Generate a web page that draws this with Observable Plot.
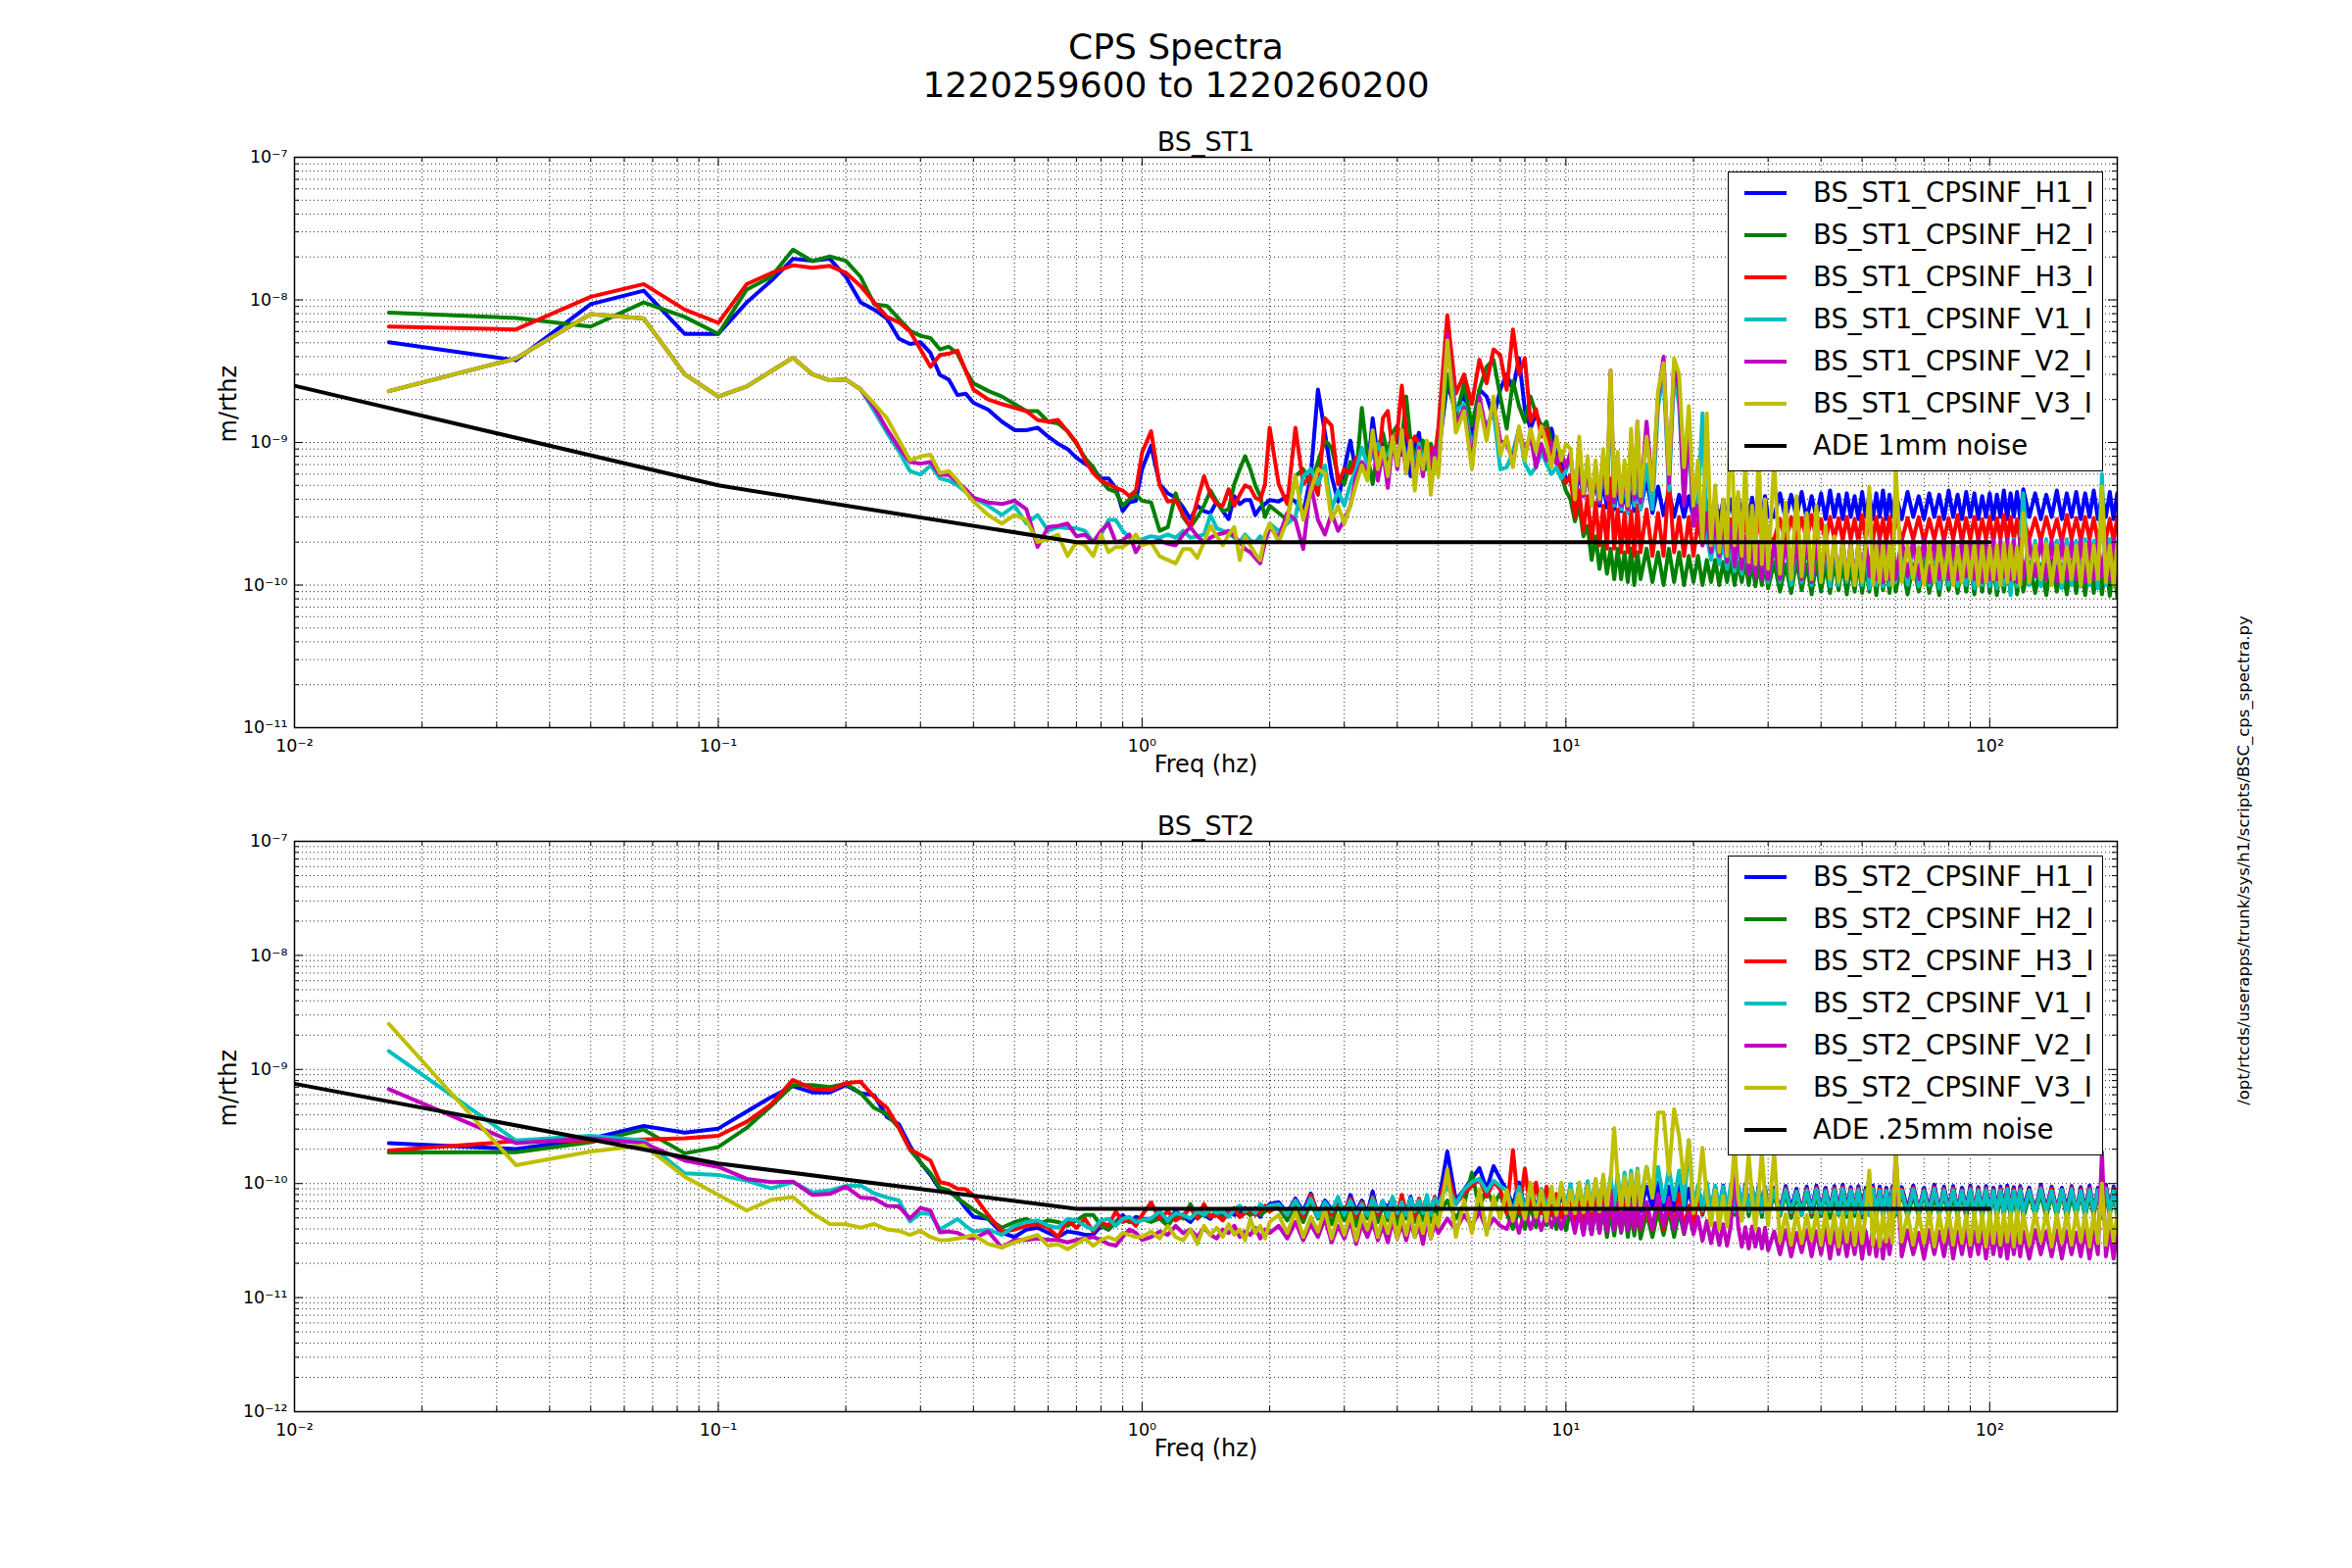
<!DOCTYPE html>
<html>
<head>
<meta charset="utf-8">
<script src="https://cdn.jsdelivr.net/npm/d3@7"></script>
<script src="https://cdn.jsdelivr.net/npm/@observablehq/plot@0.6"></script>
<style>
  html, body { margin: 0; padding: 0; background: #fff; }
  #fig { position: relative; width: 2400px; height: 1600px; overflow: hidden; background: #fff;
         font-family: "DejaVu Sans", sans-serif; color: #000; }
  .panel { position: absolute; left: 0; }
  .sup { position: absolute; left: 0; width: 2400px; text-align: center; font-size: 36px; line-height: 39px; }
  .legend { position: absolute; left: 1763px; width: 383px; height: 306px; border: 1.5px solid #000;
            background: #fff; box-sizing: border-box; }
  .row { position: absolute; left: 0; width: 100%; height: 0; }
  .sw { position: absolute; left: 16px; width: 43px; height: 4px; top: -2px; }
  .lt { position: absolute; left: 86px; top: 0; transform: translateY(-50%); font-size: 27.5px; line-height: 1; white-space: nowrap; }
  .side { position: absolute; left: 2290px; top: 878px; transform: translate(-50%, -50%) rotate(-90deg);
          font-size: 16.5px; line-height: 1; white-space: nowrap; }
</style>
</head>
<body>
<div id="fig"></div>
<script>
// ---------------- data ----------------
const figTitle = ["CPS Spectra", "1220259600 to 1220260200"];
const scriptPath = "/opt/rtcds/userapps/trunk/sys/h1/scripts/BSC_cps_spectra.py";
const xLabel = "Freq (hz)";
const yLabel = "m/rthz";
const channels = ["H1", "H2", "H3", "V1", "V2", "V3"];
const seriesColors = ["#0000ff", "#008000", "#ff0000", "#00bfbf", "#bf00bf", "#bfbf00"];

// frequency grid (Hz), shared by all channels
const freq = [
 0.0167,0.0333,0.05,0.0667,0.0833,0.1,0.1167,0.1333,0.15,0.1667,0.1833,0.2,0.2167,0.2333,0.25,0.2667,0.2833,0.3,0.3167,0.3333,0.35,0.3667,0.3833,0.4,
 0.4333,0.4667,0.5,0.5333,0.5667,0.6,0.6333,0.6667,0.7,0.7333,0.7667,0.8,0.8333,0.8667,0.9,0.9333,0.9667,1.0,
 1.05,1.1,1.15,1.2,1.25,1.3,1.35,1.4,1.45,1.5,1.55,1.6,1.65,1.7,1.75,1.8,1.85,1.9,1.95,2.0,
 2.1,2.2,2.3,2.4,2.5,2.6,2.7,2.8,2.9,3.0,3.1,3.2,3.3,3.4,3.5,3.6,3.7,3.8,3.9,4.0,4.1,4.2,4.3,4.4,4.5,4.6,4.7,4.8,4.9,5.0,
 5.25,5.5,5.75,6.0,6.25,6.5,6.75,7.0,7.25,7.5,7.75,8.0,8.25,8.5,8.75,9.0,9.25,9.5,9.75,10.0,
 10.25,10.5,10.75,11,11.25,11.5,11.75,12,12.25,12.5,
 12.75,13,13.25,13.5,13.75,14,14.25,14.5,14.75,15,
 15.5,16,16.5,17,17.5,18,18.5,19,19.5,20,
 20.5,21,21.5,22,22.5,23,23.5,24,24.5,25,
 25.5,26,26.5,27,27.5,28,28.5,29,29.5,30,
 31,32,33,34,35,36,37,38,39,40,
 41,42,43,44,45,46,47,48,49,50,
 51,52,53,54,55,56,57,58,59,60,
 62,64,66,68,70,72,74,76,78,80,
 82,84,86,88,90,92,94,96,98,100,
 102,104,106,108,110,112,114,116,118,120,
 124,128,132,136,140,144,148,152,156,160,
 164,168,172,176,180,184,188,192,196,200
];

// ---- BS_ST1 (m/rthz)
const st1_H1 = [
 5.05e-9,3.77e-9,9.33e-9,1.16e-8,5.77e-9,5.77e-9,9.6e-9,1.36e-8,1.94e-8,1.88e-8,1.94e-8,1.45e-8,9.6e-9,8.55e-9,7.4e-9,5.35e-9,4.9e-9,5.05e-9,4.24e-9,2.98e-9,2.75e-9,2.15e-9,2.2e-9,1.9e-9,
 1.7e-9,1.4e-9,1.22e-9,1.22e-9,1.27e-9,1.1e-9,9.8e-10,9.0e-10,7.8e-10,7.1e-10,6.5e-10,5.6e-10,5.6e-10,4.8e-10,3.3e-10,3.8e-10,3.9e-10,6.5e-10,
 9.5e-10,5.1e-10,4.4e-10,4.1e-10,3.5e-10,2.9e-10,3.6e-10,3.3e-10,3.2e-10,3.85e-10,3.3e-10,2.9e-10,4.2e-10,3.7e-10,3.95e-10,3.95e-10,3.1e-10,3.5e-10,3.7e-10,3.95e-10,
 3.85e-10,4.2e-10,3.85e-10,3.2e-10,5.8e-10,2.35e-9,1.17e-9,5.8e-10,3.85e-10,6.5e-10,1.03e-9,6.1e-10,6.9e-10,5.8e-10,1.48e-9,7.8e-10,9.8e-10,6.9e-10,9.2e-10,1.1e-9,8.2e-10,1.17e-9,5.8e-10,9.2e-10,1.17e-9,7.3e-10,9.2e-10,7.8e-10,6.9e-10,8.2e-10,
 2.6e-9,1.66e-9,2.2e-9,1.1e-9,2.35e-9,2.1e-9,1.48e-9,2.35e-9,3.0e-9,2.34e-9,3.9e-9,1.71e-9,1.25e-9,1.6e-9,1.3e-9,1.1e-9,1.25e-9,8.6e-10,7.1e-10,5.6e-10,
 5.4e-10,4.0e-10,6.2e-10,4.2e-10,6.7e-10,3.8e-10,5.6e-10,3.6e-10,5.2e-10,3.5e-10,
 5.0e-10,3.4e-10,4.9e-10,3.3e-10,4.6e-10,3.2e-10,4.8e-10,3.3e-10,5.9e-10,3.4e-10,
 5.6e-10,3.2e-10,4.9e-10,3.1e-10,4.6e-10,3.0e-10,4.3e-10,3.0e-10,4.2e-10,2.9e-10,
 4.0e-10,2.8e-10,3.9e-10,2.9e-10,4.1e-10,2.8e-10,3.9e-10,2.9e-10,4.0e-10,2.8e-10,
 4.2e-10,2.9e-10,4.3e-10,2.9e-10,4.1e-10,2.9e-10,4.3e-10,2.9e-10,4.2e-10,3.0e-10,
 3.0e-10,4.4e-10,2.9e-10,4.3e-10,3.0e-10,4.5e-10,2.9e-10,4.2e-10,3.0e-10,4.4e-10,
 2.9e-10,4.6e-10,3.0e-10,4.3e-10,2.9e-10,4.4e-10,3.0e-10,4.2e-10,2.9e-10,4.5e-10,
 3.0e-10,4.3e-10,2.9e-10,4.4e-10,3.0e-10,4.6e-10,2.9e-10,4.3e-10,3.0e-10,4.4e-10,
 2.9e-10,4.5e-10,3.0e-10,4.2e-10,2.9e-10,4.4e-10,3.0e-10,4.3e-10,2.9e-10,4.6e-10,
 3.0e-10,4.3e-10,2.9e-10,4.5e-10,3.0e-10,4.4e-10,2.9e-10,4.2e-10,3.0e-10,4.4e-10,
 2.9e-10,4.3e-10,3.0e-10,4.6e-10,2.9e-10,4.4e-10,3.0e-10,4.5e-10,2.9e-10,4.7e-10,
 3.0e-10,4.4e-10,2.9e-10,4.3e-10,3.0e-10,4.6e-10,2.9e-10,4.4e-10,3.0e-10,4.5e-10,
 2.9e-10,4.4e-10,3.0e-10,4.6e-10,2.9e-10,4.3e-10,3.0e-10,4.5e-10,2.9e-10,4.4e-10
];
const st1_H2 = [
 8.15e-9,7.46e-9,6.5e-9,9.6e-9,7.6e-9,5.77e-9,1.18e-8,1.45e-8,2.25e-8,1.87e-8,2.02e-8,1.88e-8,1.45e-8,9.33e-9,9.06e-9,7.4e-9,6.08e-9,5.6e-9,5.4e-9,4.49e-9,4.7e-9,4.2e-9,3.2e-9,2.6e-9,
 2.3e-9,2.1e-9,1.86e-9,1.66e-9,1.66e-9,1.4e-9,1.36e-9,1.2e-9,9.8e-10,7.8e-10,6.7e-10,5.4e-10,4.7e-10,4.5e-10,3.6e-10,4.0e-10,4.3e-10,3.9e-10,
 3.8e-10,2.4e-10,2.55e-10,4.4e-10,3.0e-10,2.55e-10,3.0e-10,3.6e-10,4.6e-10,3.85e-10,3.3e-10,3.4e-10,5.1e-10,6.5e-10,8.0e-10,6.5e-10,5.0e-10,4.2e-10,3.0e-10,3.6e-10,
 3.2e-10,2.86e-10,5.8e-10,6.5e-10,5.1e-10,7.3e-10,1.03e-9,9.2e-10,5.8e-10,5.1e-10,7.3e-10,5.8e-10,1.75e-9,8.2e-10,5.1e-10,9.2e-10,1.17e-9,8.2e-10,1.17e-9,1.31e-9,1.03e-9,2.1e-9,1.03e-9,8.2e-10,9.2e-10,1.03e-9,6.5e-10,9.8e-10,7.3e-10,8.2e-10,
 3.0e-9,1.48e-9,2.6e-9,1.31e-9,2.35e-9,3.4e-9,3.8e-9,2.1e-9,1.25e-9,2.7e-9,1.8e-9,1.4e-9,2.1e-9,1.6e-9,1.25e-9,1.4e-9,9.8e-10,7.5e-10,5.9e-10,4.6e-10,
 4.0e-10,2.8e-10,3.6e-10,2.2e-10,2.6e-10,1.5e-10,2.2e-10,1.3e-10,1.9e-10,1.2e-10,
 1.8e-10,1.1e-10,1.8e-10,1.1e-10,1.7e-10,1.05e-10,1.8e-10,1.0e-10,1.7e-10,1.1e-10,
 1.8e-10,1.05e-10,1.7e-10,1.0e-10,1.8e-10,1.05e-10,1.7e-10,1.0e-10,1.6e-10,1.05e-10,
 1.6e-10,1.0e-10,1.5e-10,1.05e-10,1.5e-10,1.0e-10,1.45e-10,1.05e-10,1.5e-10,1.0e-10,
 1.45e-10,1.05e-10,1.5e-10,1.0e-10,1.45e-10,9.8e-11,1.4e-10,1.0e-10,1.45e-10,9.5e-11,
 1.45e-10,9.0e-11,1.4e-10,8.8e-11,1.5e-10,9.2e-11,1.4e-10,8.6e-11,1.45e-10,9.0e-11,
 1.4e-10,8.8e-11,1.5e-10,9.2e-11,1.45e-10,8.6e-11,1.4e-10,9.0e-11,1.5e-10,8.8e-11,
 1.4e-10,9.0e-11,1.45e-10,8.5e-11,1.4e-10,9.2e-11,1.5e-10,8.8e-11,1.4e-10,9.0e-11,
 1.45e-10,8.6e-11,1.4e-10,9.0e-11,1.5e-10,8.8e-11,1.4e-10,8.5e-11,1.45e-10,9.2e-11,
 1.4e-10,8.8e-11,1.5e-10,9.0e-11,1.45e-10,8.6e-11,1.4e-10,9.0e-11,1.5e-10,8.8e-11,
 1.4e-10,8.5e-11,1.45e-10,9.0e-11,1.4e-10,8.8e-11,1.5e-10,8.6e-11,1.4e-10,9.0e-11,
 1.45e-10,8.8e-11,1.4e-10,8.5e-11,1.5e-10,9.0e-11,1.4e-10,8.6e-11,1.45e-10,8.8e-11,
 1.4e-10,8.5e-11,1.5e-10,8.8e-11,1.4e-10,8.6e-11,1.45e-10,8.4e-11,1.4e-10,8.2e-11
];
const st1_H3 = [
 6.5e-9,6.2e-9,1.05e-8,1.29e-8,8.55e-9,6.9e-9,1.29e-8,1.54e-8,1.75e-8,1.68e-8,1.73e-8,1.55e-8,1.25e-8,9.6e-9,7.6e-9,6.97e-9,6.0e-9,4.5e-9,3.39e-9,4.1e-9,4.2e-9,4.4e-9,3.2e-9,2.35e-9,
 2.0e-9,1.86e-9,1.75e-9,1.66e-9,1.44e-9,1.4e-9,1.44e-9,1.2e-9,1.0e-9,7.5e-10,6.1e-10,5.4e-10,5.1e-10,4.8e-10,4.6e-10,4.2e-10,4.6e-10,8.5e-10,
 1.2e-9,5.0e-10,3.85e-10,3.95e-10,3.1e-10,2.55e-10,3.95e-10,5.8e-10,4.3e-10,3.7e-10,3.6e-10,4.7e-10,3.6e-10,4.3e-10,5.0e-10,4.8e-10,4.1e-10,3.95e-10,5.1e-10,1.27e-9,
 5.1e-10,3.7e-10,1.27e-9,5.1e-10,5.8e-10,4.3e-10,1.48e-9,1.31e-9,5.1e-10,6.5e-10,6.1e-10,7.8e-10,6.5e-10,7.1e-10,9.8e-10,6.5e-10,1.48e-9,1.66e-9,8.7e-10,1.17e-9,2.5e-9,1.17e-9,9.2e-10,1.1e-9,9.8e-10,7.3e-10,8.2e-10,9.2e-10,7.8e-10,1.27e-9,
 7.8e-9,2.2e-9,3.0e-9,1.86e-9,3.8e-9,2.6e-9,4.5e-9,4.1e-9,2.34e-9,6.2e-9,3.0e-9,3.9e-9,1.4e-9,1.71e-9,1.1e-9,1.25e-9,7.5e-10,8.0e-10,6.3e-10,5.2e-10,
 5.9e-10,3.0e-10,4.6e-10,2.4e-10,4.2e-10,2.0e-10,3.8e-10,1.9e-10,3.6e-10,1.8e-10,
 5.6e-10,1.8e-10,3.4e-10,1.7e-10,3.2e-10,1.7e-10,3.3e-10,1.6e-10,3.6e-10,1.7e-10,
 3.4e-10,1.6e-10,3.2e-10,1.6e-10,5.6e-10,1.7e-10,3.0e-10,1.6e-10,3.0e-10,1.6e-10,
 2.8e-10,1.9e-10,3.0e-10,2.0e-10,2.8e-10,1.9e-10,3.0e-10,2.0e-10,2.9e-10,2.0e-10,
 3.0e-10,2.0e-10,2.9e-10,2.1e-10,3.0e-10,2.0e-10,2.9e-10,2.1e-10,3.0e-10,2.1e-10,
 2.1e-10,2.9e-10,2.0e-10,3.0e-10,2.1e-10,2.95e-10,2.05e-10,3.1e-10,2.1e-10,2.9e-10,
 2.0e-10,3.0e-10,2.1e-10,2.95e-10,2.05e-10,3.0e-10,2.1e-10,2.9e-10,2.0e-10,3.1e-10,
 2.1e-10,2.95e-10,2.05e-10,3.0e-10,2.1e-10,2.9e-10,2.0e-10,3.0e-10,2.1e-10,3.1e-10,
 2.05e-10,2.95e-10,2.1e-10,3.0e-10,2.0e-10,2.9e-10,2.1e-10,3.0e-10,2.05e-10,2.95e-10,
 2.1e-10,3.1e-10,2.0e-10,2.95e-10,2.1e-10,3.0e-10,2.05e-10,2.9e-10,2.1e-10,3.0e-10,
 2.0e-10,2.95e-10,2.1e-10,3.1e-10,2.05e-10,3.0e-10,2.1e-10,2.9e-10,2.0e-10,3.0e-10,
 2.1e-10,2.95e-10,2.05e-10,3.0e-10,2.1e-10,2.9e-10,2.0e-10,3.1e-10,2.1e-10,2.95e-10,
 2.05e-10,3.0e-10,2.1e-10,2.95e-10,2.0e-10,3.0e-10,2.1e-10,2.9e-10,2.05e-10,3.0e-10
];
const st1_V1 = [
 2.29e-9,3.88e-9,7.96e-9,7.4e-9,3.01e-9,2.1e-9,2.47e-9,3.16e-9,3.93e-9,3.01e-9,2.73e-9,2.76e-9,2.36e-9,1.66e-9,1.17e-9,8.7e-10,6.3e-10,5.95e-10,6.9e-10,5.6e-10,5.4e-10,5.0e-10,4.5e-10,4.1e-10,
 3.6e-10,3.1e-10,3.6e-10,2.7e-10,3.1e-10,2.4e-10,2.55e-10,2.5e-10,2.5e-10,2.4e-10,2.0e-10,2.26e-10,2.86e-10,2.86e-10,2.4e-10,2.15e-10,2.0e-10,2.1e-10,
 2.2e-10,2.15e-10,2.26e-10,2.15e-10,2.4e-10,2.15e-10,2.2e-10,2.26e-10,3.1e-10,2.5e-10,2.4e-10,2.3e-10,2.15e-10,2.0e-10,2.26e-10,2.05e-10,2.0e-10,2.2e-10,2.0e-10,2.7e-10,
 2.4e-10,2.7e-10,3.0e-10,5.8e-10,6.5e-10,5.1e-10,6.9e-10,3.4e-10,4.6e-10,3.6e-10,5.1e-10,6.5e-10,9.2e-10,6.9e-10,8.2e-10,9.8e-10,7.8e-10,8.2e-10,9.8e-10,8.2e-10,1.03e-9,7.8e-10,9.2e-10,6.5e-10,9.8e-10,7.3e-10,8.2e-10,5.8e-10,6.9e-10,7.3e-10,
 4.7e-9,1.66e-9,1.86e-9,9.2e-10,1.66e-9,1.31e-9,1.66e-9,6.5e-10,6.7e-10,8.6e-10,1.25e-9,7.1e-10,6.0e-10,6.7e-10,8.6e-10,7.1e-10,6.0e-10,6.7e-10,5.6e-10,6.3e-10,
 8.0e-10,4.6e-10,7.0e-10,4.2e-10,6.0e-10,4.0e-10,6.5e-10,3.8e-10,7.0e-10,4.0e-10,
 2.3e-9,3.6e-10,6.5e-10,3.4e-10,6.0e-10,3.2e-10,8.0e-10,3.6e-10,7.5e-10,3.4e-10,
 7.0e-10,3.4e-10,1.8e-9,3.0e-9,4.6e-10,3.0e-9,1.8e-9,4.0e-10,1.2e-9,2.6e-10,
 3.6e-10,1.6e-9,2.2e-10,1.5e-10,2.2e-10,1.4e-10,2.1e-10,1.3e-10,2.0e-10,1.25e-10,
 2.0e-10,1.2e-10,2.0e-10,1.2e-10,1.95e-10,1.15e-10,2.0e-10,1.1e-10,1.9e-10,1.05e-10,
 1.9e-10,1.05e-10,2.0e-10,1.0e-10,1.95e-10,1.05e-10,2.0e-10,1.0e-10,1.9e-10,1.05e-10,
 2.0e-10,9.8e-11,2.05e-10,1.0e-10,1.95e-10,1.05e-10,2.0e-10,1.0e-10,2.05e-10,1.0e-10,
 1.95e-10,9.5e-11,2.0e-10,1.0e-10,2.05e-10,9.8e-11,2.0e-10,1.0e-10,1.95e-10,1.05e-10,
 2.0e-10,1.0e-10,2.05e-10,9.8e-11,2.0e-10,1.0e-10,1.95e-10,9.5e-11,2.0e-10,1.0e-10,
 2.05e-10,9.8e-11,2.0e-10,1.0e-10,1.95e-10,9.5e-11,2.05e-10,1.0e-10,2.0e-10,9.8e-11,
 2.0e-10,9.5e-11,2.05e-10,1.0e-10,2.0e-10,8.5e-11,2.1e-10,9.8e-11,2.0e-10,4.4e-10,
 1.0e-10,2.05e-10,9.8e-11,2.1e-10,1.0e-10,2.05e-10,9.5e-11,2.1e-10,1.0e-10,2.05e-10,
 9.8e-11,2.1e-10,1.0e-10,2.05e-10,9.5e-11,6.0e-10,1.0e-10,2.1e-10,9.8e-11,2.0e-10
];
const st1_V2 = [
 2.29e-9,3.88e-9,7.96e-9,7.4e-9,3.01e-9,2.1e-9,2.47e-9,3.16e-9,3.93e-9,3.01e-9,2.73e-9,2.76e-9,2.36e-9,1.77e-9,1.24e-9,9.2e-10,7.3e-10,7.1e-10,7.3e-10,5.95e-10,5.9e-10,5.3e-10,4.7e-10,4.1e-10,
 3.8e-10,3.7e-10,3.9e-10,3.4e-10,1.85e-10,2.55e-10,2.6e-10,2.7e-10,2.2e-10,2.26e-10,2.0e-10,2.4e-10,2.7e-10,2.0e-10,2.05e-10,2.26e-10,1.7e-10,2.0e-10,
 2.0e-10,2.05e-10,1.95e-10,1.9e-10,2.26e-10,2.55e-10,2.2e-10,2.0e-10,2.15e-10,2.26e-10,2.3e-10,2.4e-10,2.2e-10,2.0e-10,1.79e-10,1.7e-10,1.55e-10,1.42e-10,2.0e-10,2.55e-10,
 2.15e-10,3.2e-10,2.86e-10,1.79e-10,5.1e-10,2.86e-10,2.26e-10,3.2e-10,2.4e-10,2.86e-10,3.6e-10,5.8e-10,7.3e-10,6.1e-10,1.03e-9,5.4e-10,8.7e-10,4.8e-10,1.03e-9,6.5e-10,1.1e-9,6.1e-10,9.8e-10,5.4e-10,9.2e-10,5.8e-10,9.8e-10,6.5e-10,9.2e-10,6.1e-10,
 5.7e-9,1.31e-9,1.75e-9,7.3e-10,2.1e-9,1.17e-9,1.86e-9,1.03e-9,9.8e-10,7.5e-10,1.25e-9,8.6e-10,1.1e-9,6.7e-10,9.8e-10,7.5e-10,1.0e-9,7.1e-10,8.6e-10,6.7e-10,
 8.5e-10,4.0e-10,7.5e-10,4.2e-10,6.5e-10,3.6e-10,6.7e-10,3.8e-10,8.0e-10,4.0e-10,
 3.2e-9,3.8e-10,7.5e-10,3.6e-10,6.5e-10,3.4e-10,1.1e-9,4.0e-10,1.4e-9,3.8e-10,
 1.4e-9,4.6e-10,2.1e-9,4.0e-9,5.2e-10,3.6e-9,2.3e-9,3.6e-10,1.4e-9,2.6e-10,
 3.6e-10,1.9e-10,3.2e-10,1.7e-10,3.0e-10,1.6e-10,2.8e-10,1.45e-10,2.6e-10,1.35e-10,
 2.4e-10,1.3e-10,2.2e-10,1.2e-10,2.1e-10,1.15e-10,2.0e-10,1.1e-10,2.0e-10,1.1e-10,
 1.95e-10,1.1e-10,2.0e-10,1.15e-10,1.9e-10,1.1e-10,2.0e-10,1.05e-10,1.95e-10,1.1e-10,
 2.0e-10,1.15e-10,1.95e-10,1.1e-10,2.05e-10,1.1e-10,2.0e-10,1.05e-10,1.95e-10,1.1e-10,
 2.05e-10,1.15e-10,2.0e-10,1.1e-10,2.1e-10,1.05e-10,2.0e-10,1.1e-10,2.05e-10,1.1e-10,
 2.1e-10,1.15e-10,2.05e-10,1.1e-10,2.1e-10,1.05e-10,2.05e-10,1.1e-10,2.1e-10,1.1e-10,
 2.05e-10,1.1e-10,2.1e-10,1.15e-10,2.05e-10,1.1e-10,2.1e-10,1.05e-10,2.05e-10,1.1e-10,
 2.1e-10,1.1e-10,2.05e-10,1.15e-10,2.1e-10,1.1e-10,2.05e-10,1.05e-10,2.1e-10,1.1e-10,
 2.05e-10,1.15e-10,2.1e-10,1.1e-10,2.05e-10,1.05e-10,2.1e-10,1.1e-10,2.05e-10,1.1e-10,
 2.1e-10,1.05e-10,2.05e-10,1.1e-10,2.1e-10,1.15e-10,2.05e-10,1.1e-10,2.1e-10,1.1e-10
];
const st1_V3 = [
 2.29e-9,3.88e-9,7.96e-9,7.4e-9,3.01e-9,2.1e-9,2.47e-9,3.16e-9,3.93e-9,3.01e-9,2.73e-9,2.76e-9,2.36e-9,1.87e-9,1.48e-9,1.04e-9,7.5e-10,7.97e-10,8.2e-10,6.1e-10,6.3e-10,5.4e-10,4.5e-10,3.85e-10,
 3.1e-10,2.7e-10,3.1e-10,2.86e-10,2.0e-10,2.1e-10,2.26e-10,1.6e-10,2.0e-10,1.9e-10,1.6e-10,2.26e-10,1.7e-10,1.85e-10,1.85e-10,2.0e-10,2.26e-10,1.9e-10,
 2.0e-10,1.59e-10,1.5e-10,1.42e-10,1.79e-10,1.79e-10,1.55e-10,2.0e-10,2.6e-10,2.2e-10,1.9e-10,2.26e-10,2.55e-10,1.5e-10,2.2e-10,1.9e-10,1.65e-10,1.5e-10,2.26e-10,2.7e-10,
 2.0e-10,2.86e-10,5.8e-10,2.86e-10,4.6e-10,6.5e-10,6.1e-10,2.86e-10,3.6e-10,2.7e-10,3.6e-10,5.1e-10,6.9e-10,5.4e-10,1.22e-9,6.5e-10,9.2e-10,5.8e-10,1.1e-9,6.9e-10,1.22e-9,6.1e-10,1.03e-9,4.6e-10,8.7e-10,6.5e-10,1.03e-9,4.3e-10,7.8e-10,5.8e-10,
 5.2e-9,1.17e-9,1.66e-9,6.5e-10,1.86e-9,1.03e-9,2.1e-9,8.2e-10,1.1e-9,6.7e-10,1.3e-9,7.5e-10,1.25e-9,8.6e-10,1.3e-9,9.8e-10,6.7e-10,1.1e-9,7.5e-10,9.8e-10,
 9.0e-10,4.0e-10,1.1e-9,4.4e-10,8.0e-10,3.6e-10,7.5e-10,4.0e-10,9.0e-10,4.4e-10,
 3.2e-9,4.2e-10,8.6e-10,3.8e-10,7.5e-10,3.6e-10,1.25e-9,4.4e-10,1.4e-9,4.2e-10,
 1.1e-9,4.6e-10,2.3e-9,3.6e-9,6.0e-10,3.9e-9,3.0e-9,6.7e-10,1.8e-9,3.6e-10,
 7.5e-10,2.0e-10,1.6e-9,1.9e-10,5.0e-10,1.7e-10,4.0e-10,1.6e-10,2.5e-9,1.9e-10,
 4.5e-10,1.6e-10,7.5e-10,1.45e-10,3.6e-10,1.4e-10,1.0e-9,1.4e-10,4.0e-10,1.3e-10,
 7.5e-10,1.2e-10,3.8e-10,1.1e-10,4.2e-10,1.15e-10,3.2e-10,1.1e-10,3.6e-10,1.05e-10,
 2.6e-10,1.1e-10,2.2e-10,1.05e-10,2.0e-10,1.1e-10,1.9e-10,1.0e-10,1.95e-10,1.05e-10,
 1.9e-10,4.9e-10,1.0e-10,1.9e-10,1.05e-10,1.95e-10,1.1e-10,1.9e-10,1.0e-10,6.7e-10,
 1.05e-10,1.9e-10,1.1e-10,1.85e-10,1.0e-10,1.9e-10,1.05e-10,1.95e-10,1.1e-10,1.9e-10,
 1.0e-10,1.85e-10,1.05e-10,1.9e-10,1.1e-10,1.95e-10,1.0e-10,1.9e-10,1.05e-10,1.85e-10,
 1.1e-10,1.9e-10,1.0e-10,1.95e-10,1.05e-10,1.9e-10,1.1e-10,1.85e-10,1.0e-10,3.2e-10,
 1.05e-10,1.9e-10,1.1e-10,1.95e-10,1.0e-10,1.9e-10,1.05e-10,1.85e-10,1.1e-10,1.9e-10,
 1.0e-10,1.95e-10,1.05e-10,1.9e-10,1.1e-10,4.9e-10,1.05e-10,1.9e-10,1.0e-10,1.95e-10
];

// ---- BS_ST2 (m/rthz)
const st2_H1 = [
 2.26e-10,2.01e-10,2.47e-10,3.19e-10,2.8e-10,3.03e-10,4.28e-10,5.73e-10,7.14e-10,6.3e-10,6.3e-10,7.3e-10,6.2e-10,5.94e-10,3.83e-10,3.31e-10,2.14e-10,1.53e-10,1.19e-10,8.9e-11,8.4e-11,7.65e-11,6.1e-11,5.1e-11,
 4.9e-11,3.7e-11,3.4e-11,3.95e-11,4.1e-11,3.7e-11,3.4e-11,3.8e-11,3.7e-11,3.55e-11,3.55e-11,4.26e-11,3.95e-11,4.6e-11,5.3e-11,4.6e-11,5.1e-11,4.9e-11,
 4.9e-11,5.3e-11,4.75e-11,5.7e-11,5.1e-11,4.6e-11,5.5e-11,5.3e-11,4.9e-11,5.7e-11,5.1e-11,5.95e-11,5.3e-11,5.5e-11,6.1e-11,5.3e-11,5.7e-11,5.1e-11,5.95e-11,6.6e-11,
 6.85e-11,5.5e-11,7.4e-11,5.7e-11,8.2e-11,5.3e-11,7.1e-11,5.95e-11,6.6e-11,5.3e-11,7.95e-11,5.7e-11,7.1e-11,5.5e-11,8.55e-11,5.3e-11,6.85e-11,6.15e-11,7.4e-11,5.5e-11,7.1e-11,5.3e-11,7.65e-11,5.7e-11,6.85e-11,5.95e-11,7.4e-11,5.3e-11,7.1e-11,6.6e-11,
 1.91e-10,7.1e-11,8.9e-11,1.1e-10,1.37e-10,8.9e-11,1.42e-10,1.1e-10,8.75e-11,6.4e-11,1.02e-10,5.9e-11,9.4e-11,6.1e-11,8.75e-11,5.9e-11,8.4e-11,5.7e-11,8.1e-11,5.9e-11,
 9.0e-11,5.9e-11,9.4e-11,5.7e-11,9.9e-11,5.9e-11,9.4e-11,5.8e-11,9.6e-11,5.7e-11,
 9.9e-11,5.9e-11,1.02e-10,5.7e-11,9.4e-11,5.9e-11,9.6e-11,5.8e-11,9.9e-11,5.7e-11,
 9.4e-11,6.1e-11,1.02e-10,5.9e-11,9.4e-11,5.7e-11,9.9e-11,5.9e-11,9.0e-11,5.7e-11,
 9.4e-11,5.9e-11,9.0e-11,5.7e-11,9.4e-11,5.9e-11,9.6e-11,5.8e-11,9.0e-11,5.7e-11,
 9.4e-11,5.9e-11,9.9e-11,5.7e-11,9.2e-11,5.8e-11,9.5e-11,5.9e-11,9.3e-11,5.7e-11,
 9.2e-11,5.8e-11,9.5e-11,6.0e-11,9.0e-11,5.7e-11,9.4e-11,5.9e-11,9.6e-11,5.8e-11,
 9.2e-11,6.0e-11,9.5e-11,5.7e-11,9.8e-11,5.9e-11,9.3e-11,5.8e-11,9.5e-11,6.0e-11,
 9.2e-11,5.7e-11,9.6e-11,5.9e-11,9.4e-11,5.8e-11,9.2e-11,6.0e-11,9.5e-11,5.7e-11,
 9.3e-11,5.9e-11,9.6e-11,5.8e-11,9.2e-11,6.0e-11,9.8e-11,5.7e-11,9.4e-11,5.9e-11,
 9.5e-11,5.8e-11,9.2e-11,6.0e-11,9.6e-11,5.7e-11,9.3e-11,5.9e-11,9.5e-11,5.8e-11,
 9.2e-11,6.0e-11,9.4e-11,5.7e-11,9.6e-11,5.9e-11,9.3e-11,5.8e-11,9.5e-11,6.0e-11,
 9.2e-11,5.7e-11,9.8e-11,5.9e-11,9.4e-11,5.8e-11,9.2e-11,6.0e-11,9.5e-11,5.7e-11,
 9.3e-11,5.9e-11,9.6e-11,5.8e-11,9.2e-11,6.0e-11,9.8e-11,5.7e-11,9.4e-11,5.9e-11
];
const st2_H2 = [
 1.87e-10,1.88e-10,2.3e-10,2.97e-10,1.84e-10,2.09e-10,3.08e-10,4.78e-10,7.3e-10,7.3e-10,7.0e-10,7.5e-10,6.2e-10,4.6e-10,4.06e-10,3.08e-10,1.98e-10,1.53e-10,1.23e-10,9.2e-11,8.7e-11,7.4e-11,6.6e-11,5.9e-11,
 4.9e-11,4.1e-11,4.6e-11,4.9e-11,4.4e-11,4.75e-11,4.6e-11,4.26e-11,4.75e-11,5.3e-11,5.3e-11,4.26e-11,3.95e-11,4.6e-11,4.9e-11,4.6e-11,4.75e-11,4.9e-11,
 4.6e-11,4.93e-11,4.26e-11,5.3e-11,4.93e-11,6.6e-11,4.93e-11,5.5e-11,5.1e-11,5.7e-11,4.93e-11,5.3e-11,5.95e-11,5.1e-11,5.7e-11,5.3e-11,6.1e-11,5.3e-11,5.7e-11,5.95e-11,
 6.15e-11,4.75e-11,6.6e-11,4.6e-11,6.85e-11,4.93e-11,6.15e-11,4.4e-11,6.6e-11,4.75e-11,6.4e-11,4.26e-11,6.85e-11,4.93e-11,6.15e-11,4.6e-11,6.6e-11,4.75e-11,6.4e-11,4.4e-11,6.85e-11,4.93e-11,6.15e-11,4.6e-11,6.6e-11,4.75e-11,7.1e-11,4.6e-11,6.4e-11,5.3e-11,
 7.1e-11,4.93e-11,6.6e-11,1.24e-10,6.15e-11,8.9e-11,6.6e-11,8.2e-11,5.5e-11,4.0e-11,5.9e-11,4.0e-11,6.4e-11,4.15e-11,6.9e-11,4.3e-11,6.1e-11,4.0e-11,5.9e-11,3.9e-11,
 5.9e-11,4.0e-11,6.1e-11,3.7e-11,5.9e-11,3.6e-11,6.0e-11,3.7e-11,5.9e-11,3.4e-11,
 5.7e-11,3.5e-11,5.8e-11,3.7e-11,5.9e-11,3.4e-11,5.7e-11,3.5e-11,5.9e-11,3.3e-11,
 5.5e-11,3.4e-11,5.8e-11,3.55e-11,5.9e-11,3.4e-11,5.7e-11,3.6e-11,5.9e-11,4.3e-11,
 7.8e-11,5.3e-11,8.1e-11,5.5e-11,8.0e-11,5.3e-11,8.2e-11,5.2e-11,8.4e-11,5.3e-11,
 8.1e-11,5.5e-11,8.3e-11,5.2e-11,8.0e-11,5.4e-11,8.2e-11,5.1e-11,8.4e-11,5.3e-11,
 8.0e-11,5.2e-11,8.3e-11,5.0e-11,7.8e-11,5.3e-11,8.2e-11,5.1e-11,8.0e-11,5.2e-11,
 8.4e-11,5.0e-11,7.9e-11,5.3e-11,8.2e-11,5.1e-11,8.0e-11,5.2e-11,8.3e-11,5.0e-11,
 7.8e-11,5.3e-11,8.2e-11,5.1e-11,8.0e-11,5.2e-11,8.4e-11,5.0e-11,7.9e-11,5.3e-11,
 8.2e-11,5.1e-11,8.0e-11,5.2e-11,8.3e-11,5.0e-11,7.8e-11,5.3e-11,8.2e-11,5.1e-11,
 8.0e-11,5.2e-11,8.4e-11,5.0e-11,7.9e-11,5.3e-11,8.2e-11,5.1e-11,8.0e-11,5.2e-11,
 8.3e-11,5.0e-11,7.8e-11,5.3e-11,8.2e-11,5.1e-11,8.0e-11,5.2e-11,8.4e-11,5.0e-11,
 7.9e-11,5.3e-11,8.2e-11,5.1e-11,8.0e-11,5.2e-11,8.3e-11,5.0e-11,7.8e-11,5.3e-11,
 8.2e-11,5.1e-11,8.0e-11,5.2e-11,8.4e-11,5.0e-11,7.9e-11,5.3e-11,8.2e-11,5.1e-11
];
const st2_H3 = [
 1.95e-10,2.35e-10,2.38e-10,2.43e-10,2.5e-10,2.62e-10,3.48e-10,4.95e-10,8.1e-10,6.78e-10,6.6e-10,7.6e-10,7.8e-10,5.73e-10,4.6e-10,3.08e-10,2.0e-10,1.78e-10,1.59e-10,1.03e-10,9.9e-11,9.0e-11,8.9e-11,7.9e-11,
 5.3e-11,3.8e-11,3.95e-11,4.26e-11,4.4e-11,4.1e-11,3.4e-11,4.75e-11,4.1e-11,4.9e-11,3.8e-11,4.6e-11,4.26e-11,5.7e-11,4.6e-11,4.9e-11,4.26e-11,5.3e-11,
 6.8e-11,4.93e-11,5.7e-11,4.75e-11,5.3e-11,6.1e-11,4.93e-11,6.6e-11,5.1e-11,5.3e-11,4.75e-11,5.7e-11,6.1e-11,5.1e-11,5.5e-11,5.95e-11,5.3e-11,5.7e-11,6.4e-11,5.7e-11,
 6.4e-11,5.3e-11,7.1e-11,5.1e-11,7.95e-11,5.5e-11,6.6e-11,5.3e-11,7.1e-11,5.7e-11,7.4e-11,5.1e-11,6.85e-11,5.5e-11,7.65e-11,5.3e-11,6.6e-11,5.7e-11,7.1e-11,5.3e-11,7.95e-11,5.5e-11,6.85e-11,5.1e-11,7.4e-11,5.7e-11,6.6e-11,5.3e-11,7.65e-11,6.15e-11,
 1.28e-10,6.6e-11,8.2e-11,9.5e-11,1.1e-10,7.65e-11,1.03e-10,8.9e-11,5.5e-11,1.97e-10,5.5e-11,1.35e-10,5.9e-11,1.02e-10,5.5e-11,9.4e-11,5.3e-11,8.1e-11,5.1e-11,7.5e-11,
 7.2e-11,4.7e-11,6.9e-11,4.5e-11,7.2e-11,4.4e-11,6.8e-11,4.3e-11,7.0e-11,4.2e-11,
 6.6e-11,4.3e-11,6.9e-11,4.0e-11,6.8e-11,4.1e-11,6.4e-11,4.0e-11,6.7e-11,4.0e-11,
 6.1e-11,3.9e-11,7.5e-11,4.0e-11,6.6e-11,4.15e-11,8.1e-11,4.0e-11,6.4e-11,4.3e-11,
 8.1e-11,5.5e-11,8.4e-11,5.6e-11,8.6e-11,5.5e-11,8.4e-11,5.7e-11,8.75e-11,5.6e-11,
 8.4e-11,5.5e-11,8.8e-11,5.7e-11,8.6e-11,5.5e-11,8.75e-11,5.6e-11,8.9e-11,5.7e-11,
 8.8e-11,5.6e-11,9.1e-11,5.5e-11,8.6e-11,5.7e-11,9.0e-11,5.5e-11,9.2e-11,5.6e-11,
 8.8e-11,5.8e-11,9.1e-11,5.5e-11,9.3e-11,5.6e-11,8.9e-11,5.7e-11,9.1e-11,5.5e-11,
 8.8e-11,5.6e-11,9.2e-11,5.7e-11,9.0e-11,5.5e-11,8.8e-11,5.8e-11,9.1e-11,5.6e-11,
 8.9e-11,5.5e-11,9.2e-11,5.6e-11,8.8e-11,5.7e-11,9.3e-11,5.5e-11,9.0e-11,5.6e-11,
 9.1e-11,5.6e-11,8.8e-11,5.5e-11,9.2e-11,5.7e-11,8.9e-11,5.6e-11,9.1e-11,5.5e-11,
 8.8e-11,5.7e-11,9.0e-11,5.5e-11,9.2e-11,5.6e-11,8.9e-11,5.8e-11,9.1e-11,5.6e-11,
 8.8e-11,5.5e-11,9.3e-11,5.6e-11,9.0e-11,5.7e-11,8.8e-11,5.5e-11,9.2e-11,5.6e-11,
 8.9e-11,5.7e-11,9.1e-11,5.5e-11,8.8e-11,5.6e-11,9.3e-11,5.5e-11,9.0e-11,5.6e-11
];
const st2_V1 = [
 1.45e-9,2.38e-10,2.62e-10,2.38e-10,1.23e-10,1.19e-10,1.06e-10,9.06e-11,1.03e-10,8.35e-11,8.7e-11,9.5e-11,9.6e-11,8.2e-11,7.55e-11,7.1e-11,4.66e-11,5.5e-11,5.4e-11,3.96e-11,4.4e-11,4.9e-11,4.26e-11,3.8e-11,
 3.95e-11,3.55e-11,4.26e-11,4.6e-11,4.75e-11,4.26e-11,4.1e-11,4.9e-11,4.75e-11,4.26e-11,3.95e-11,4.75e-11,4.9e-11,4.26e-11,4.9e-11,5.1e-11,4.6e-11,4.75e-11,
 4.93e-11,5.7e-11,4.75e-11,5.5e-11,5.3e-11,4.93e-11,5.7e-11,5.3e-11,5.95e-11,5.5e-11,5.7e-11,5.1e-11,5.95e-11,6.4e-11,5.7e-11,6.1e-11,5.5e-11,6.6e-11,5.95e-11,6.4e-11,
 6.6e-11,5.3e-11,7.1e-11,5.5e-11,7.4e-11,5.1e-11,6.85e-11,5.7e-11,7.65e-11,5.3e-11,7.1e-11,5.5e-11,6.6e-11,5.3e-11,7.4e-11,5.7e-11,7.1e-11,5.1e-11,7.65e-11,5.5e-11,6.85e-11,5.3e-11,7.4e-11,5.7e-11,7.1e-11,5.5e-11,7.95e-11,5.3e-11,7.4e-11,6.6e-11,
 9.5e-11,6.6e-11,8.9e-11,1.03e-10,1.1e-10,8.55e-11,1.06e-10,9.5e-11,8.75e-11,5.5e-11,9.4e-11,5.9e-11,8.75e-11,5.7e-11,9.0e-11,5.9e-11,8.4e-11,5.5e-11,9.8e-11,6.1e-11,
 9.9e-11,6.0e-11,1.02e-10,5.9e-11,1.05e-10,6.1e-11,1.08e-10,6.2e-11,1.1e-10,6.4e-11,
 1.15e-10,6.4e-11,1.2e-10,6.6e-11,1.25e-10,6.6e-11,1.3e-10,6.9e-11,1.35e-10,6.9e-11,
 1.4e-10,7.5e-11,1.4e-10,6.9e-11,1.35e-10,7.2e-11,1.3e-10,6.4e-11,2.4e-10,5.9e-11,
 9.8e-11,5.8e-11,1.02e-10,5.7e-11,9.6e-11,5.9e-11,9.4e-11,5.8e-11,9.9e-11,5.7e-11,
 9.5e-11,5.9e-11,9.4e-11,5.7e-11,9.2e-11,5.8e-11,9.0e-11,5.6e-11,8.9e-11,5.7e-11,
 8.6e-11,5.5e-11,8.8e-11,5.6e-11,8.5e-11,5.4e-11,8.7e-11,5.6e-11,8.9e-11,5.5e-11,
 8.6e-11,5.7e-11,8.8e-11,5.4e-11,9.0e-11,5.5e-11,8.7e-11,5.6e-11,8.8e-11,5.5e-11,
 8.6e-11,5.4e-11,8.9e-11,5.6e-11,8.7e-11,5.5e-11,8.6e-11,5.7e-11,8.8e-11,5.5e-11,
 8.7e-11,5.4e-11,8.9e-11,5.6e-11,8.6e-11,5.5e-11,9.0e-11,5.4e-11,8.7e-11,5.6e-11,
 8.8e-11,5.5e-11,8.6e-11,5.7e-11,8.9e-11,5.4e-11,8.7e-11,5.6e-11,8.8e-11,5.5e-11,
 8.6e-11,5.6e-11,8.7e-11,5.4e-11,8.9e-11,5.5e-11,8.6e-11,5.7e-11,8.8e-11,5.5e-11,
 8.7e-11,5.4e-11,9.0e-11,5.6e-11,8.6e-11,5.5e-11,8.8e-11,5.4e-11,8.9e-11,5.6e-11,
 8.6e-11,5.5e-11,8.8e-11,5.7e-11,8.7e-11,5.4e-11,9.0e-11,5.6e-11,8.7e-11,5.5e-11
];
const st2_V2 = [
 6.73e-10,2.26e-10,2.5e-10,2.26e-10,1.59e-10,1.4e-10,1.1e-10,1.03e-10,1.04e-10,7.94e-11,8.1e-11,9.4e-11,7.55e-11,7.4e-11,6.37e-11,6.3e-11,4.93e-11,6.1e-11,5.8e-11,3.73e-11,3.8e-11,3.7e-11,3.4e-11,3.3e-11,
 3.8e-11,2.75e-11,3.2e-11,3.2e-11,3.3e-11,3.2e-11,3.2e-11,3.05e-11,3.2e-11,3.3e-11,3.4e-11,3.2e-11,2.95e-11,2.85e-11,3.4e-11,3.95e-11,3.7e-11,3.2e-11,
 3.4e-11,3.8e-11,3.55e-11,4.26e-11,3.68e-11,3.95e-11,3.4e-11,4.1e-11,3.55e-11,3.3e-11,3.95e-11,3.68e-11,4.26e-11,3.4e-11,3.8e-11,3.55e-11,4.1e-11,3.3e-11,3.95e-11,3.68e-11,
 4.26e-11,3.3e-11,4.6e-11,3.18e-11,4.4e-11,3.4e-11,4.93e-11,3.05e-11,4.26e-11,3.3e-11,4.75e-11,2.95e-11,4.4e-11,3.4e-11,4.6e-11,3.18e-11,4.26e-11,3.05e-11,4.75e-11,3.3e-11,4.4e-11,3.18e-11,4.6e-11,3.4e-11,4.26e-11,2.95e-11,4.75e-11,3.3e-11,4.4e-11,3.68e-11,
 4.93e-11,3.95e-11,5.3e-11,4.26e-11,5.7e-11,3.95e-11,4.93e-11,4.26e-11,4.0e-11,5.5e-11,3.7e-11,5.9e-11,4.0e-11,5.5e-11,3.9e-11,5.7e-11,4.15e-11,5.5e-11,4.0e-11,5.5e-11,
 5.5e-11,3.7e-11,5.7e-11,3.55e-11,5.9e-11,3.6e-11,6.2e-11,3.7e-11,6.5e-11,3.8e-11,
 8.75e-11,3.9e-11,6.5e-11,3.8e-11,6.0e-11,3.9e-11,6.8e-11,4.0e-11,7.5e-11,4.1e-11,
 6.9e-11,4.0e-11,8.1e-11,4.3e-11,7.5e-11,4.0e-11,6.4e-11,3.7e-11,5.5e-11,3.6e-11,
 5.1e-11,3.15e-11,4.7e-11,3.0e-11,4.5e-11,2.9e-11,4.4e-11,2.85e-11,4.3e-11,1.9e-10,
 4.2e-11,2.8e-11,4.15e-11,2.7e-11,4.2e-11,2.8e-11,4.0e-11,2.7e-11,4.1e-11,2.6e-11,
 3.8e-11,2.4e-11,3.9e-11,2.3e-11,3.7e-11,2.5e-11,3.9e-11,2.3e-11,3.8e-11,2.4e-11,
 4.0e-11,2.2e-11,3.8e-11,2.4e-11,3.9e-11,2.3e-11,3.7e-11,2.4e-11,3.9e-11,2.2e-11,
 3.8e-11,2.4e-11,4.0e-11,2.3e-11,3.8e-11,2.2e-11,3.9e-11,2.4e-11,3.7e-11,1.9e-10,
 2.3e-11,3.9e-11,2.4e-11,3.7e-11,2.2e-11,3.9e-11,2.4e-11,3.8e-11,2.3e-11,4.0e-11,
 2.2e-11,3.8e-11,2.4e-11,3.9e-11,2.3e-11,3.8e-11,2.4e-11,3.9e-11,2.2e-11,3.8e-11,
 2.4e-11,3.7e-11,2.3e-11,3.9e-11,2.2e-11,3.8e-11,2.4e-11,3.9e-11,2.3e-11,3.8e-11,
 2.2e-11,3.9e-11,2.4e-11,3.8e-11,2.3e-11,3.9e-11,2.2e-11,3.8e-11,2.4e-11,3.7e-11,
 2.3e-11,3.9e-11,2.2e-11,3.8e-11,2.4e-11,1.9e-10,2.3e-11,3.9e-11,2.2e-11,3.8e-11
];
const st2_V3 = [
 2.51e-9,1.45e-10,1.91e-10,2.16e-10,1.15e-10,7.94e-11,5.8e-11,7.2e-11,7.6e-11,5.5e-11,4.42e-11,4.4e-11,4.11e-11,4.42e-11,3.96e-11,3.85e-11,3.55e-11,3.85e-11,3.4e-11,3.18e-11,3.2e-11,3.3e-11,3.4e-11,3.55e-11,
 2.95e-11,2.75e-11,3.05e-11,3.3e-11,3.55e-11,2.85e-11,2.95e-11,2.65e-11,2.95e-11,3.3e-11,2.85e-11,3.2e-11,3.4e-11,3.2e-11,3.7e-11,3.55e-11,3.4e-11,3.4e-11,
 3.8e-11,3.3e-11,4.26e-11,3.4e-11,3.18e-11,3.95e-11,2.95e-11,4.26e-11,3.55e-11,4.1e-11,3.4e-11,4.4e-11,3.55e-11,3.95e-11,3.18e-11,4.93e-11,3.68e-11,4.26e-11,3.3e-11,4.6e-11,
 5.3e-11,3.68e-11,5.7e-11,3.4e-11,5.1e-11,3.8e-11,5.95e-11,3.3e-11,5.3e-11,3.55e-11,5.5e-11,3.18e-11,5.3e-11,3.95e-11,5.7e-11,3.4e-11,5.1e-11,3.68e-11,5.5e-11,3.3e-11,5.3e-11,3.55e-11,5.7e-11,3.4e-11,5.1e-11,3.68e-11,5.5e-11,3.3e-11,5.3e-11,4.26e-11,
 1.33e-10,3.4e-11,7.1e-11,3.68e-11,8.9e-11,3.55e-11,7.65e-11,4.93e-11,8.75e-11,4.7e-11,8.1e-11,4.9e-11,1.02e-10,5.1e-11,8.75e-11,4.7e-11,9.4e-11,5.3e-11,1.02e-10,5.5e-11,
 8.75e-11,5.5e-11,1.02e-10,5.6e-11,9.5e-11,5.9e-11,1.1e-10,5.7e-11,1.2e-10,6.0e-11,
 1.1e-10,3.06e-10,1.1e-10,5.9e-11,1.15e-10,6.0e-11,1.2e-10,6.4e-11,1.3e-10,6.2e-11,
 1.4e-10,7.5e-11,4.2e-10,4.2e-10,1.2e-10,4.5e-10,2.6e-10,1.02e-10,2.4e-10,5.5e-11,
 8.0e-11,2.06e-10,7.5e-11,4.3e-11,8.75e-11,4.0e-11,7.8e-11,4.2e-11,8.0e-11,2.06e-10,
 7.5e-11,4.7e-11,8.0e-11,1.8e-10,7.6e-11,4.0e-11,8.2e-11,1.9e-10,7.8e-11,4.3e-11,
 1.9e-10,3.1e-11,5.4e-11,2.9e-11,5.6e-11,3.0e-11,5.3e-11,3.2e-11,5.5e-11,2.9e-11,
 5.6e-11,3.0e-11,5.4e-11,2.8e-11,5.5e-11,3.1e-11,5.7e-11,2.9e-11,5.4e-11,3.0e-11,
 5.5e-11,1.3e-10,2.9e-11,5.6e-11,2.8e-11,5.4e-11,3.1e-11,5.5e-11,3.0e-11,1.9e-10,
 3.1e-11,5.4e-11,2.9e-11,5.5e-11,3.0e-11,5.7e-11,2.8e-11,5.4e-11,3.1e-11,5.6e-11,
 2.9e-11,5.5e-11,3.0e-11,5.3e-11,2.9e-11,5.6e-11,3.1e-11,5.4e-11,2.8e-11,5.5e-11,
 3.0e-11,5.6e-11,2.9e-11,5.4e-11,3.1e-11,5.5e-11,2.8e-11,5.7e-11,3.0e-11,5.4e-11,
 2.9e-11,5.5e-11,3.1e-11,5.6e-11,2.8e-11,5.4e-11,3.0e-11,5.5e-11,2.9e-11,5.6e-11,
 3.1e-11,5.4e-11,2.8e-11,5.5e-11,3.0e-11,1.0e-10,2.9e-11,5.6e-11,3.1e-11,5.4e-11
];

// ADE requirement curves
const adeFreq = [0.01, 0.1, 0.7, 100];
const ade1mm = [2.5e-9, 5e-10, 2e-10, 2e-10];
const ade025mm = [7.5e-10, 1.5e-10, 6e-11, 6e-11];

// axis ticks
const xMajor = [0.01, 0.1, 1, 10, 100];
const yMajor1 = [1e-11, 1e-10, 1e-9, 1e-8, 1e-7];
const yMajor2 = [1e-12, 1e-11, 1e-10, 1e-9, 1e-8, 1e-7];

// ---------------- drawing ----------------
const FW = 1860, FH = 582;
const LW = 4;
const supMap = {"-": "\u207B", "0": "\u2070", "1": "\u00B9", "2": "\u00B2", "3": "\u00B3", "4": "\u2074",
                "5": "\u2075", "6": "\u2076", "7": "\u2077", "8": "\u2078", "9": "\u2079"};
const sup = d => "10" + String(Math.round(Math.log10(d))).split("").map(c => supMap[c]).join("");

function minorOf(majors, lo, hi) {
  const out = [];
  const decades = majors.concat([majors[0] / 10]);
  for (const m of decades) for (let k = 2; k <= 9; k++) {
    const v = m * k;
    if (v > lo * 1.0001 && v < hi * 0.9999 && !out.some(w => Math.abs(w / v - 1) < 1e-6)) out.push(v);
  }
  return out;
}

function drawPanel({title, series, ade, yDomain, yMajor}) {
  const xMinor = minorOf(xMajor, 0.01, 200);
  const yMinor = minorOf(yMajor, yDomain[0], yDomain[1]);
  const gridStyle = {stroke: "#000", strokeOpacity: 0.85, strokeWidth: 1, strokeDasharray: "1,3"};
  const marks = [
    Plot.ruleX(xMinor.concat(xMajor.filter(v => v > 0.01)), {x: d => d, ...gridStyle}),
    Plot.ruleY(yMinor.concat(yMajor.filter(v => v > yDomain[0] && v < yDomain[1])), {y: d => d, ...gridStyle})
  ];
  series.forEach((vals, k) => {
    const n = Math.min(vals.length, freq.length);
    if (vals.length !== freq.length) console.warn(title, channels[k], vals.length, freq.length);
    const rows = [];
    for (let i = 0; i < n; i++) rows.push({f: freq[i], v: vals[i]});
    marks.push(Plot.line(rows, {x: "f", y: "v", stroke: seriesColors[k], strokeWidth: LW,
                                strokeLinejoin: "round", clip: true}));
  });
  marks.push(Plot.line(adeFreq.map((f, i) => ({f, v: ade[i]})),
                       {x: "f", y: "v", stroke: "#000", strokeWidth: LW, clip: true}));
  marks.push(Plot.frame({stroke: "#000", strokeWidth: 1.5}));
  // inward ticks on all four sides
  const tk = {stroke: "#000", strokeWidth: 1};
  marks.push(Plot.tickX(xMajor, {x: d => d, insetTop: FH - 9, ...tk}));
  marks.push(Plot.tickX(xMajor, {x: d => d, insetBottom: FH - 9, ...tk}));
  marks.push(Plot.tickX(xMinor, {x: d => d, insetTop: FH - 5, ...tk}));
  marks.push(Plot.tickX(xMinor, {x: d => d, insetBottom: FH - 5, ...tk}));
  marks.push(Plot.tickY(yMajor, {y: d => d, insetRight: FW - 9, ...tk}));
  marks.push(Plot.tickY(yMajor, {y: d => d, insetLeft: FW - 9, ...tk}));
  marks.push(Plot.tickY(yMinor, {y: d => d, insetRight: FW - 5, ...tk}));
  marks.push(Plot.tickY(yMinor, {y: d => d, insetLeft: FW - 5, ...tk}));
  // tick labels
  marks.push(Plot.axisX({ticks: xMajor, anchor: "bottom", tickSize: 0, tickPadding: 12, tickFormat: sup, fontSize: 17.5, label: null}));
  marks.push(Plot.axisY({ticks: yMajor, anchor: "left", tickSize: 0, tickPadding: 7, tickFormat: sup, fontSize: 17.5, label: null}));
  // titles / labels
  marks.push(Plot.text([title], {text: d => d, frameAnchor: "top", lineAnchor: "bottom", dy: -7, fontSize: 27}));
  marks.push(Plot.text([xLabel], {text: d => d, frameAnchor: "bottom", dy: 45, fontSize: 24}));
  marks.push(Plot.text([yLabel], {text: d => d, frameAnchor: "left", rotate: -90, dx: -67, fontSize: 24}));
  return Plot.plot({
    width: 2400, height: 700,
    marginLeft: 300, marginRight: 240, marginTop: 50, marginBottom: 68,
    x: {type: "log", domain: [0.01, 200]},
    y: {type: "log", domain: yDomain},
    style: {fontFamily: "DejaVu Sans, sans-serif", fontSize: "17.5px", background: "transparent", color: "#000", overflow: "visible"},
    marks
  });
}

function legend(top, labels, colors) {
  const box = document.createElement("div");
  box.className = "legend";
  box.style.top = top + "px";
  labels.forEach((lab, k) => {
    const row = document.createElement("div");
    row.className = "row";
    row.style.top = (21 + 43 * k) + "px";
    const sw = document.createElement("span");
    sw.className = "sw";
    sw.style.background = colors[k];
    const tx = document.createElement("span");
    tx.className = "lt";
    tx.textContent = lab;
    row.appendChild(sw); row.appendChild(tx);
    box.appendChild(row);
  });
  return box;
}

const fig = document.getElementById("fig");
figTitle.forEach((t, i) => {
  const d = document.createElement("div");
  d.className = "sup";
  d.style.top = (28 + 39 * i) + "px";
  d.textContent = t;
  fig.appendChild(d);
});

const p1 = drawPanel({title: "BS_ST1", series: [st1_H1, st1_H2, st1_H3, st1_V1, st1_V2, st1_V3],
                      ade: ade1mm, yDomain: [1e-11, 1e-7], yMajor: yMajor1});
p1.classList.add("panel"); p1.style.top = "110px";
fig.appendChild(p1);

const p2 = drawPanel({title: "BS_ST2", series: [st2_H1, st2_H2, st2_H3, st2_V1, st2_V2, st2_V3],
                      ade: ade025mm, yDomain: [1e-12, 1e-7], yMajor: yMajor2});
p2.classList.add("panel"); p2.style.top = "808px";
fig.appendChild(p2);

const legColors = seriesColors.concat(["#000"]);
fig.appendChild(legend(175, channels.map(c => `BS_ST1_CPSINF_${c}_I`).concat(["ADE 1mm noise"]), legColors));
fig.appendChild(legend(873, channels.map(c => `BS_ST2_CPSINF_${c}_I`).concat(["ADE .25mm noise"]), legColors));

const side = document.createElement("div");
side.className = "side";
side.textContent = scriptPath;
fig.appendChild(side);
</script>
</body>
</html>
